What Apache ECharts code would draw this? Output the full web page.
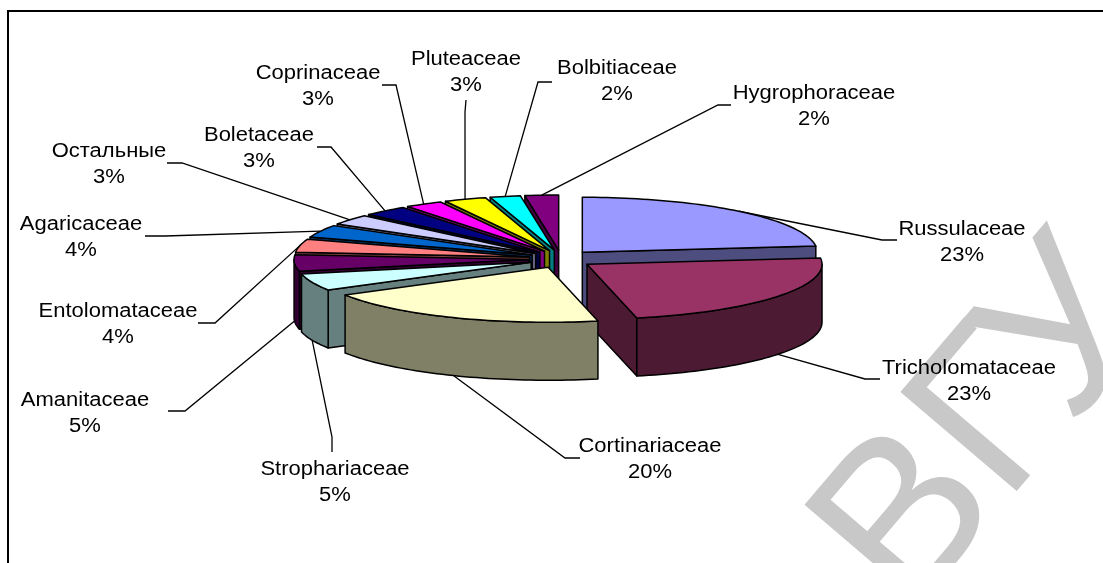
<!DOCTYPE html>
<html>
<head>
<meta charset="utf-8">
<style>html,body{margin:0;padding:0;background:#fff}#c{width:1103px;height:563px}</style>
<script src="https://cdn.jsdelivr.net/npm/echarts@6/dist/echarts.min.js"></script>
</head>
<body>
<div id="c"></div>
<script>
// ---- data (clockwise from 12 o'clock) ----
const categories = ['Russulaceae','Tricholomataceae','Cortinariaceae','Strophariaceae','Amanitaceae','Entolomataceae','Agaricaceae','Остальные','Boletaceae','Coprinaceae','Pluteaceae','Bolbitiaceae','Hygrophoraceae'];
const shares = [23.2,23.4,20,5,4.8,3.9,3.7,3,3.1,2.6,2.9,2.1,2.3];
const colors = ['#9999FF','#993366','#FFFFCC','#CCFFFF','#660066','#FF8080','#0066CC','#CCCCFF','#000080','#FF00FF','#FFFF00','#00FFFF','#800080'];

// ---- layout (not data) ----
const PIE = {cx:561, cy:259, rx:235, ry:55, depth:58, popX:32, popY:9};
const labelCenters = [[962,242],[969,381],[650,459],[335,482],[85,413],[118,324],[81,237],[109,164],[259,148],[318,86],[466,72],[617,81],[814,106]];
const leaderStubs = [
 [[897,240],[882,240]],[[880,379],[865,379]],[[580,458],[565,458]],[[332,452],[332,437]],
 [[168,411],[185,411]],[[198,323],[215,323]],[[145,236],[165,236]],[[167,163],[182,163]],
 [[317,147],[331,147]],[[382,85],[396,85]],[[466,100],[465,112]],[[552,82],[538,82]],[[731,105],[718,105]]
];
const TEXT_SIZE = 20, TEXT_STRETCH = 1.1, TEXT_LINE = 26;

const total = shares.reduce((a,b)=>a+b,0);
const rad = d => d*Math.PI/180;
let run = 0;
const spans = shares.map(v => { const s = run/total*360; run += v; return [s, run/total*360]; });
const halve = c => '#' + [1,3,5].map(i => {
  const n = Math.ceil(parseInt(c.substr(i,2),16)/2); return (n<16?'0':'')+n.toString(16);}).join('');

function apexOf(i){
  const m = rad((spans[i][0]+spans[i][1])/2);
  return [PIE.cx + PIE.popX*Math.sin(m), PIE.cy - PIE.popY*Math.cos(m)];
}
function rim(a,deg){ const t=rad(deg); return [a[0]+PIE.rx*Math.sin(t), a[1]-PIE.ry*Math.cos(t)]; }
function arc(a,s,e){ const pts=[]; const n=Math.max(2,Math.ceil((e-s)/1.5));
  for(let k=0;k<=n;k++) pts.push(rim(a,s+(e-s)*k/n)); return pts; }
const drop = p => [p[0],p[1]+PIE.depth];

function poly(points,fill,z2){
  return {type:'polygon',z2,shape:{points},style:{fill,stroke:'#000',lineWidth:1.5,lineJoin:'round'},silent:true};
}

// paint back-to-front
const midCos = i => Math.cos(rad((spans[i][0]+spans[i][1])/2));
const depthRank = shares.map((_,i)=>i).sort((p,q)=> midCos(q)-midCos(p));

function renderItem(params, api){
  const i = api.value(1), [s,e] = spans[i], a = apexOf(i);
  const top = colors[i], side = halve(top);
  const rank = depthRank.indexOf(i), base = 100 + rank*10;
  const kids = [];
  const bottomApex = drop(a);
  if (Math.sin(rad(s)) < -1e-6) { const p=rim(a,s); kids.push(poly([a,p,drop(p),bottomApex],side,base)); }
  if (Math.sin(rad(e)) >  1e-6) { const p=rim(a,e); kids.push(poly([a,p,drop(p),bottomApex],side,base+1)); }
  const ws=Math.max(s,90), we=Math.min(e,270);
  if (we>ws){ const w=arc(a,ws,we); kids.push(poly(w.concat(w.map(drop).reverse()),side,base+2)); }
  kids.push(poly([a].concat(arc(a,s,e)),top,base+3));
  // leader line: runs from the label to the middle of the slice's rim
  const mid=(s+e)/2; let end=rim(a,mid); if(Math.cos(rad(mid))<0.02) end=drop(end);
  const st=leaderStubs[i];
  kids.push({type:'polyline',z2:10,silent:true,shape:{points:[st[0],st[1],end]},style:{fill:'none',stroke:'#000',lineWidth:1.3}});
  // label
  const lc=labelCenters[i];
  kids.push({type:'text',z2:500,silent:true,x:lc[0],y:lc[1],scaleX:TEXT_STRETCH,
    style:{text:categories[i]+'\n'+Math.round(shares[i]/total*100)+'%',x:0,y:0,
      font:TEXT_SIZE+'px "Liberation Sans", Arial, sans-serif',fill:'#000',
      textAlign:'center',textVerticalAlign:'middle',lineHeight:TEXT_LINE}});
  return {type:'group',children:kids};
}

const chart = echarts.init(document.getElementById('c'),null,{renderer:'canvas'});
const wmStyle = t => ({text:t,font:'222px "Liberation Sans", Arial, sans-serif',fill:'#C8C8C8',textAlign:'left',textVerticalAlign:'bottom'});
chart.setOption({
  animation:false,
  backgroundColor:'#fff',
  tooltip:{show:false},
  graphic:[
    {type:'text',z:0,silent:true,x:947,y:650,rotation:rad(49.6),originX:0,originY:0,style:wmStyle('ВГ')},
    {type:'text',z:0,silent:true,x:1109,y:460,rotation:rad(49.6),originX:0,originY:0,style:wmStyle('У')},
    {type:'polyline',z:1,silent:true,shape:{points:[[8,570],[8,11],[1110,11]]},style:{fill:'none',stroke:'#000',lineWidth:2}}
  ],
  series:[{type:'custom',coordinateSystem:'none',z:5,clip:false,
    data:shares.map((v,i)=>({name:categories[i],value:[v,i]})),
    renderItem}]
});
</script>
</body>
</html>
